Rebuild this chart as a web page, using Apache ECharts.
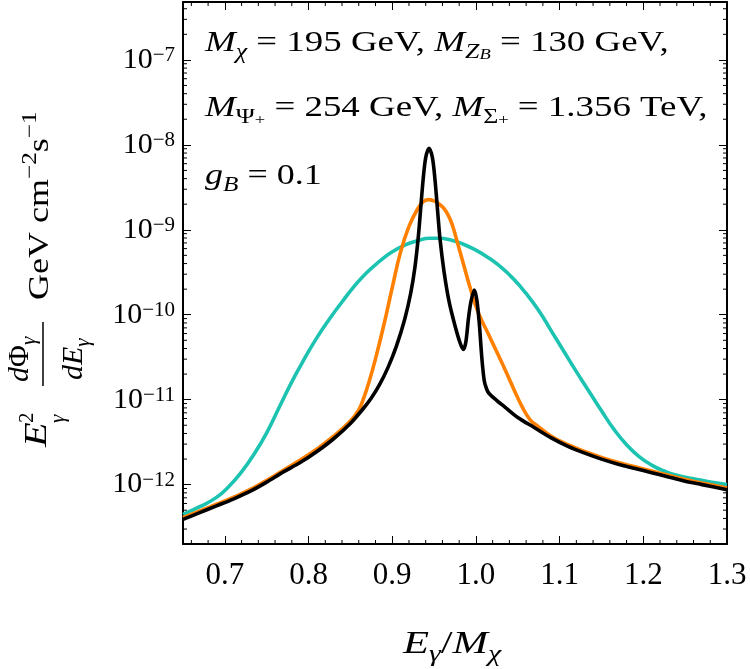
<!DOCTYPE html>
<html>
<head>
<meta charset="utf-8">
<script src="https://cdn.jsdelivr.net/npm/echarts@6/dist/echarts.min.js"></script>
<style>
  html, body { margin: 0; padding: 0; background: #fff; }
  #chart { width: 750px; height: 669px; }
</style>
</head>
<body>
<div id="chart"></div>
<script>
// values, y stored as log10 of the flux
var cyanX = [0.65,0.67,0.69,0.705,0.72,0.735,0.75,0.765,0.78,0.795,0.81,0.825,0.84,0.855,0.87,0.885,0.90,0.915,0.93,0.945,0.955,0.97,0.985,1.00,1.015,1.03,1.045,1.06,1.075,1.09,1.105,1.12,1.135,1.15,1.165,1.18,1.195,1.21,1.225,1.24,1.26,1.28,1.30];
var cyanLog = [-12.35,-12.26,-12.15,-12.02,-11.85,-11.64,-11.39,-11.09,-10.79,-10.52,-10.27,-10.05,-9.85,-9.66,-9.50,-9.37,-9.26,-9.18,-9.13,-9.10,-9.10,-9.12,-9.17,-9.24,-9.33,-9.44,-9.58,-9.75,-9.95,-10.19,-10.43,-10.67,-10.90,-11.13,-11.35,-11.53,-11.67,-11.77,-11.84,-11.89,-11.93,-11.97,-12.00];

var orangeX = [0.65,0.67,0.69,0.71,0.73,0.75,0.77,0.79,0.81,0.83,0.85,0.86,0.866,0.872,0.88,0.89,0.90,0.91,0.92,0.93,0.937,0.943,0.95,0.955,0.961,0.967,0.972,0.977,0.985,0.993,1.003,1.015,1.025,1.035,1.045,1.055,1.065,1.075,1.09,1.11,1.13,1.15,1.17,1.19,1.21,1.23,1.25,1.27,1.30];
var orangeLog = [-12.39,-12.31,-12.23,-12.15,-12.06,-11.95,-11.83,-11.71,-11.58,-11.43,-11.25,-11.12,-10.98,-10.80,-10.52,-10.12,-9.68,-9.26,-8.96,-8.76,-8.67,-8.645,-8.66,-8.69,-8.74,-8.83,-8.95,-9.12,-9.40,-9.68,-9.98,-10.23,-10.44,-10.65,-10.87,-11.08,-11.24,-11.32,-11.43,-11.53,-11.61,-11.68,-11.74,-11.79,-11.84,-11.89,-11.94,-11.98,-12.04];

var blackX = [0.65,0.67,0.69,0.71,0.73,0.75,0.77,0.79,0.81,0.83,0.85,0.865,0.875,0.885,0.895,0.905,0.915,0.922,0.927,0.931,0.934,0.937,0.940,0.944,0.948,0.951,0.954,0.957,0.962,0.968,0.975,0.981,0.985,0.988,0.991,0.994,0.998,1.001,1.004,1.007,1.010,1.013,1.016,1.025,1.035,1.05,1.07,1.09,1.11,1.13,1.15,1.17,1.19,1.21,1.23,1.25,1.27,1.30];
var blackLog = [-12.41,-12.33,-12.25,-12.17,-12.08,-11.97,-11.85,-11.74,-11.61,-11.46,-11.28,-11.11,-10.98,-10.82,-10.62,-10.37,-10.05,-9.75,-9.45,-9.10,-8.75,-8.40,-8.15,-8.04,-8.15,-8.40,-8.75,-9.10,-9.50,-9.85,-10.13,-10.33,-10.41,-10.32,-10.05,-9.85,-9.71,-9.82,-10.10,-10.50,-10.78,-10.88,-10.93,-11.01,-11.09,-11.21,-11.33,-11.45,-11.55,-11.63,-11.70,-11.76,-11.81,-11.86,-11.91,-11.96,-12.00,-12.06];

var xMin = 0.65, xMax = 1.3;
var yMin = 2e-13, yMax = 4.8e-7;

var serif = '"Liberation Serif", "DejaVu Serif", serif';

function pairs(xs, logs) {
  return xs.map(function (x, i) { return [x, Math.pow(10, logs[i])]; });
}

// minor tick positions (axis decoration)
var xMinor = [];
for (var k = 0; k < 32; k++) {
  var t = Math.round((0.66 + 0.02 * k) * 100);
  if (t % 10 !== 0) xMinor.push([t / 100, 1e-10]);
}
var yMinor = [];
for (var d = -13; d <= -7; d++) {
  for (var m = 2; m <= 9; m++) {
    var v = m * Math.pow(10, d);
    if (v > yMin * 1.001 && v < yMax) yMinor.push([1, v]);
  }
}

var chart = echarts.init(document.getElementById('chart'));

var option = {
  animation: false,
  backgroundColor: '#fff',
  grid: { left: 183, right: 23, top: 2, bottom: 125 },
  xAxis: [
    {
      type: 'value', min: xMin, max: xMax, splitNumber: 7,
      axisLine: { lineStyle: { color: '#000', width: 2 } },
      axisTick: { inside: true, length: 8, lineStyle: { color: '#000', width: 1 } },
      splitLine: { show: false },
      axisLabel: {
        margin: 16, color: '#000', fontFamily: '"Liberation Serif", serif', fontSize: 31,
        showMinLabel: false,
        formatter: function (v) { return v.toFixed(1); }
      }
    },
    {
      type: 'value', position: 'top', min: xMin, max: xMax, splitNumber: 7,
      axisLine: { lineStyle: { color: '#000', width: 2 } },
      axisTick: { inside: true, length: 8, lineStyle: { color: '#000', width: 1 } },
      splitLine: { show: false },
      axisLabel: { show: false }
    }
  ],
  yAxis: [
    {
      type: 'log', logBase: 10, min: yMin, max: yMax,
      axisLine: { lineStyle: { color: '#000', width: 2 } },
      axisTick: { inside: true, length: 8, lineStyle: { color: '#000', width: 1 } },
      splitLine: { show: false },
      minorTick: { show: false },
      axisLabel: {
        margin: 8, color: '#000', showMinLabel: false, showMaxLabel: false,
        formatter: function (v) {
          var e = Math.round(Math.log10(v));
          return '{b|10}{s|\u2212' + (-e) + '}';
        },
        rich: {
          b: { fontFamily: serif, fontSize: 30, lineHeight: 30, color: '#000' },
          s: { fontFamily: serif, fontSize: 21, lineHeight: 21, verticalAlign: 'top', color: '#000' }
        }
      }
    },
    {
      type: 'log', logBase: 10, min: yMin, max: yMax, position: 'right',
      axisLine: { lineStyle: { color: '#000', width: 2 } },
      axisTick: { inside: true, length: 8, lineStyle: { color: '#000', width: 1 } },
      splitLine: { show: false },
      axisLabel: { show: false }
    }
  ],
  series: [
    {
      name: 'cyan', type: 'line', data: pairs(cyanX, cyanLog),
      showSymbol: false, smooth: 0.5,
      lineStyle: { color: '#1cc3b0', width: 3.6 }
    },
    {
      name: 'orange', type: 'line', data: pairs(orangeX, orangeLog),
      showSymbol: false, smooth: 0.45,
      lineStyle: { color: '#ff8000', width: 3.6 }
    },
    {
      name: 'black', type: 'line', data: pairs(blackX, blackLog),
      showSymbol: false, smooth: 0.3,
      lineStyle: { color: '#000', width: 3.6 }
    },
    {
      type: 'custom', data: xMinor, encode: { x: 0, y: 1 }, silent: true, clip: false,
      renderItem: function (params, api) {
        var cs = params.coordSys;
        var x = api.coord([api.value(0), 1e-10])[0];
        return { type: 'group', children: [
          { type: 'line', shape: { x1: x, y1: cs.y + cs.height, x2: x, y2: cs.y + cs.height - 4 }, style: { stroke: '#000', lineWidth: 1 } },
          { type: 'line', shape: { x1: x, y1: cs.y, x2: x, y2: cs.y + 4 }, style: { stroke: '#000', lineWidth: 1 } }
        ] };
      }
    },
    {
      type: 'custom', data: yMinor, encode: { x: 0, y: 1 }, silent: true, clip: false,
      renderItem: function (params, api) {
        var cs = params.coordSys;
        var y = api.coord([1, api.value(1)])[1];
        return { type: 'group', children: [
          { type: 'line', shape: { x1: cs.x, y1: y, x2: cs.x + 4, y2: y }, style: { stroke: '#000', lineWidth: 1 } },
          { type: 'line', shape: { x1: cs.x + cs.width, y1: y, x2: cs.x + cs.width - 4, y2: y }, style: { stroke: '#000', lineWidth: 1 } }
        ] };
      }
    }
  ]
};

var annRich = {
  n: { fontFamily: serif, fontSize: 30, lineHeight: 40, fill: '#000' },
  i: { fontFamily: serif, fontStyle: 'italic', fontSize: 30, lineHeight: 40, fill: '#000' },
  s: { fontFamily: serif, fontStyle: 'italic', fontSize: 21, lineHeight: 24, verticalAlign: 'bottom', fill: '#000' },
  u: { fontFamily: serif, fontSize: 21, lineHeight: 24, verticalAlign: 'bottom', fill: '#000' },
  ss: { fontFamily: serif, fontStyle: 'italic', fontSize: 15, lineHeight: 14, verticalAlign: 'bottom', fill: '#000' },
  sp: { fontFamily: serif, fontSize: 15, lineHeight: 34, verticalAlign: 'bottom', fill: '#000' },
  p: { fontFamily: serif, fontSize: 21, lineHeight: 21, verticalAlign: 'top', fill: '#000' }
};

function txt(x, y, text, extra) {
  var el = { type: 'text', x: x, y: y, style: { text: text, rich: annRich, align: 'left', verticalAlign: 'middle' } };
  if (extra) for (var key in extra) el[key] = extra[key];
  return el;
}

option.graphic = [
  txt(205, 43, '{i|M}{s|\u03c7}{n| = 195 GeV, }{i|M}{s|Z}{ss|B}{n| = 130 GeV,}', { scaleX: 1.23 }),
  txt(205, 108, '{i|M}{u|\u03a8}{sp|+}{n| = 254 GeV, }{i|M}{u|\u03a3}{sp|+}{n| = 1.356 TeV,}', { scaleX: 1.23 }),
  txt(205, 176, '{i|g}{s|B}{n| = 0.1}', { scaleX: 1.2 }),
  txt(403, 645, '{i|E}{s|\u03b3}{n|/}{i|M}{s|\u03c7}', { scaleX: 1.42, scaleY: 1.06 }),
  {
    type: 'group', x: 40, y: 450, rotation: Math.PI / 2,
    children: [
      txt(3, -2, '{i|E}', { scaleX: 1.35, scaleY: 1.05 }),
      txt(27, -13, '{p|2}'),
      txt(27, 17, '{s|\u03b3}'),
      txt(68, -20, '{i|d}{n|\u03a6}{s|\u03b3}'),
      { type: 'line', shape: { x1: 64, y1: 3, x2: 128, y2: 3 }, style: { stroke: '#000', lineWidth: 1.5 } },
      txt(70, 34, '{i|dE}{s|\u03b3}'),
      txt(150, 0, '{n|GeV cm}{p|\u22122}{n|s}{p|\u22121}', { scaleX: 1.2 })
    ]
  }
];

chart.setOption(option);
window.addEventListener('resize', function () { chart.resize(); });
</script>
</body>
</html>
